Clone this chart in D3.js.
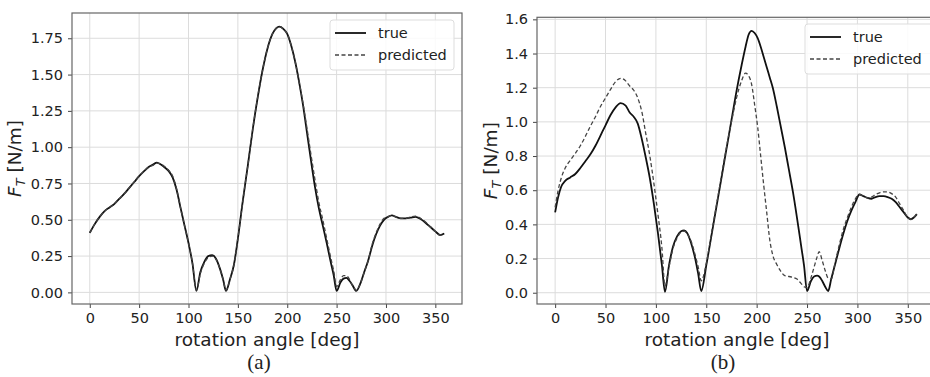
<!DOCTYPE html>
<html>
<head>
<meta charset="utf-8">
<script src="https://cdn.jsdelivr.net/npm/d3@7/dist/d3.min.js"></script>
<style>
  body { margin: 0; background: #fff; }
  text { font-family: "DejaVu Sans", sans-serif; fill: #222; }
</style>
</head>
<body>
<div id="chart"></div>
<script>
// panel (a)
var anglesA = [0,5,10,15,20,25,30,35,40,45,50,55,60,64,68,72,76,80,84,88,92,96,100,104,108,112,116,120,124,128,132,135,138,142,146,150,155,160,165,170,175,180,185,189,192,196,200,204,208,212,216,220,224,228,232,236,240,244,247,250,254,257,260,263,266,270,274,278,282,286,290,294,298,302,306,310,315,320,325,330,335,340,345,350,355,359];
var trueA = [0.41,0.47,0.52,0.56,0.585,0.61,0.645,0.68,0.72,0.76,0.80,0.835,0.865,0.88,0.893,0.88,0.86,0.835,0.79,0.705,0.58,0.46,0.34,0.20,0.01,0.14,0.21,0.25,0.257,0.23,0.16,0.09,0.01,0.09,0.19,0.37,0.63,0.87,1.12,1.34,1.53,1.68,1.78,1.82,1.83,1.815,1.78,1.70,1.59,1.45,1.29,1.10,0.91,0.73,0.58,0.46,0.34,0.21,0.12,0.01,0.07,0.095,0.10,0.08,0.05,0.01,0.06,0.14,0.22,0.32,0.40,0.46,0.50,0.52,0.53,0.52,0.51,0.51,0.515,0.52,0.505,0.48,0.45,0.42,0.395,0.405];
var predA = [0.41,0.47,0.52,0.56,0.585,0.61,0.645,0.68,0.72,0.76,0.80,0.835,0.865,0.875,0.89,0.885,0.865,0.84,0.80,0.71,0.58,0.46,0.34,0.20,0.015,0.13,0.20,0.24,0.25,0.225,0.16,0.09,0.015,0.09,0.19,0.37,0.63,0.87,1.12,1.34,1.53,1.68,1.78,1.82,1.83,1.815,1.78,1.70,1.59,1.45,1.30,1.13,0.95,0.78,0.62,0.50,0.37,0.24,0.15,0.04,0.09,0.115,0.115,0.09,0.05,0.015,0.06,0.14,0.22,0.33,0.41,0.47,0.51,0.52,0.53,0.52,0.51,0.51,0.52,0.525,0.51,0.485,0.45,0.42,0.395,0.405];
var ticksYA = [0, 0.25, 0.5, 0.75, 1.0, 1.25, 1.5, 1.75];

// panel (b)
var anglesB = [0,3,6,10,15,20,25,30,35,40,45,50,55,60,65,70,74,78,82,86,90,94,98,102,106,109,113,117,121,125,128,131,135,139,142,145,150,155,160,165,170,175,180,185,189,192,195,198,201,204,207,210,213,216,220,224,228,232,236,240,244,247,250,254,257,260,262,265,268,271,274,278,282,286,290,294,298,302,306,310,314,318,322,326,330,334,338,342,346,350,353,356,359];
var trueB = [0.47,0.56,0.62,0.655,0.675,0.695,0.73,0.77,0.81,0.86,0.92,0.98,1.04,1.085,1.11,1.095,1.055,1.03,0.99,0.90,0.79,0.67,0.52,0.35,0.16,0.005,0.16,0.27,0.33,0.36,0.365,0.35,0.29,0.20,0.11,0.01,0.16,0.33,0.50,0.67,0.84,1.01,1.18,1.33,1.44,1.51,1.533,1.52,1.49,1.44,1.38,1.32,1.26,1.20,1.09,0.97,0.85,0.72,0.59,0.44,0.28,0.16,0.01,0.07,0.095,0.10,0.095,0.07,0.035,0.01,0.08,0.17,0.26,0.345,0.42,0.48,0.53,0.575,0.565,0.555,0.55,0.56,0.565,0.565,0.56,0.55,0.53,0.50,0.47,0.44,0.43,0.44,0.46];
var predB = [0.50,0.60,0.67,0.73,0.775,0.815,0.86,0.915,0.975,1.03,1.09,1.14,1.19,1.235,1.255,1.24,1.21,1.185,1.14,1.06,0.93,0.80,0.64,0.46,0.26,0.04,0.15,0.26,0.32,0.355,0.36,0.345,0.30,0.22,0.15,0.07,0.17,0.34,0.51,0.68,0.85,1.00,1.14,1.24,1.285,1.27,1.22,1.10,0.97,0.80,0.63,0.47,0.31,0.22,0.165,0.125,0.10,0.095,0.09,0.08,0.055,0.035,0.03,0.09,0.15,0.21,0.24,0.19,0.13,0.085,0.08,0.18,0.28,0.37,0.44,0.50,0.55,0.575,0.565,0.555,0.56,0.575,0.585,0.59,0.59,0.58,0.56,0.52,0.48,0.44,0.43,0.44,0.46];
var ticksYB = [0, 0.2, 0.4, 0.6, 0.8, 1.0, 1.2, 1.4, 1.6];

var ticksX = [0, 50, 100, 150, 200, 250, 300, 350];
var seriesNames = ["true", "predicted"];

var width = 930, height = 377;

var svg = d3.select("#chart").append("svg")
  .attr("width", width)
  .attr("height", height);

function drawPanel(p) {
  var x = d3.scaleLinear().domain([-18, 377]).range([p.left, p.right]);
  var y = d3.scaleLinear().domain(p.yDomain).range([p.bottom, p.top]);

  var g = svg.append("g");

  g.append("clipPath").attr("id", "clip" + p.tag)
    .append("rect")
      .attr("x", p.left).attr("y", p.top)
      .attr("width", p.right - p.left).attr("height", p.bottom - p.top);

  // grid
  g.append("g").selectAll("line")
    .data(ticksX)
    .enter().append("line")
      .attr("x1", function(d) { return x(d); })
      .attr("x2", function(d) { return x(d); })
      .attr("y1", p.top).attr("y2", p.bottom)
      .attr("stroke", "#dcdcdc").attr("stroke-width", 1);
  g.append("g").selectAll("line")
    .data(p.ticksY)
    .enter().append("line")
      .attr("y1", function(d) { return y(d); })
      .attr("y2", function(d) { return y(d); })
      .attr("x1", p.left).attr("x2", p.right)
      .attr("stroke", "#dcdcdc").attr("stroke-width", 1);

  // axes
  var xAxis = d3.axisBottom(x).tickValues(ticksX).tickSize(4).tickPadding(5)
    .tickFormat(d3.format("d"));
  var yAxis = d3.axisLeft(y).tickValues(p.ticksY).tickSize(4).tickPadding(5)
    .tickFormat(d3.format(p.fmt));

  var gx = g.append("g").attr("transform", "translate(0," + p.bottom + ")").call(xAxis);
  var gy = g.append("g").attr("transform", "translate(" + p.left + ",0)").call(yAxis);
  [gx, gy].forEach(function(a) {
    a.select(".domain").remove();
    a.selectAll(".tick line").attr("stroke", "#444");
    a.selectAll(".tick text")
      .style("font-family", "'DejaVu Sans', sans-serif")
      .style("font-size", "14.5px")
      .attr("fill", "#222");
  });

  // lines
  var line = d3.line()
    .x(function(d) { return x(d[0]); })
    .y(function(d) { return y(d[1]); })
    .curve(d3.curveMonotoneX);

  var plot = g.append("g").attr("clip-path", "url(#clip" + p.tag + ")");
  plot.append("path")
    .datum(d3.zip(p.angles, p.trueV))
    .attr("d", line)
    .attr("fill", "none")
    .attr("stroke", "#111")
    .attr("stroke-width", 1.8);
  plot.append("path")
    .datum(d3.zip(p.angles, p.predV))
    .attr("d", line)
    .attr("fill", "none")
    .attr("stroke", "#444")
    .attr("stroke-width", 1.3)
    .attr("stroke-dasharray", "4,2.5");

  // frame
  g.append("rect")
    .attr("x", p.left).attr("y", p.top)
    .attr("width", p.right - p.left).attr("height", p.bottom - p.top)
    .attr("fill", "none").attr("stroke", "#666").attr("stroke-width", 1.2);

  // legend
  var lg = g.append("g").attr("transform", "translate(" + p.legX + "," + p.legY + ")");
  lg.append("rect")
    .attr("x", 0).attr("y", 0).attr("width", p.legW).attr("height", 50)
    .attr("rx", 3)
    .attr("fill", "#fff").attr("fill-opacity", 0.85)
    .attr("stroke", "#ddd");
  seriesNames.forEach(function(name, i) {
    lg.append("line")
      .attr("x1", 5).attr("x2", 36)
      .attr("y1", 13 + i * 22).attr("y2", 13 + i * 22)
      .attr("stroke", i === 0 ? "#111" : "#444")
      .attr("stroke-width", i === 0 ? 1.8 : 1.3)
      .attr("stroke-dasharray", i === 0 ? null : "4,2.5");
    lg.append("text")
      .attr("x", 48).attr("y", 18 + i * 22)
      .style("font-size", "14.5px")
      .text(name);
  });

  // axis labels
  g.append("text")
    .attr("x", p.xLabelX).attr("y", 346)
    .attr("text-anchor", "middle")
    .style("font-size", "18.5px")
    .text("rotation angle [deg]");

  var yl = g.append("text")
    .attr("transform", "translate(" + p.yLabelX + "," + ((p.top + p.bottom) / 2) + ") rotate(-90)")
    .attr("text-anchor", "middle")
    .style("font-size", "18.5px");
  yl.append("tspan").style("font-style", "italic").text("F");
  yl.append("tspan").style("font-style", "italic").style("font-size", "13px")
    .attr("dy", 4).text("T");
  yl.append("tspan").attr("dy", -4).text(" [N/m]");

  g.append("text")
    .attr("x", p.capX).attr("y", 369)
    .attr("text-anchor", "middle")
    .style("font-family", "'Liberation Serif', serif")
    .style("font-size", "21px")
    .text(p.caption);
}

drawPanel({
  tag: "a", left: 72, right: 462, top: 13, bottom: 304,
  yDomain: [-0.08, 1.924], ticksY: ticksYA, fmt: ".2f",
  angles: anglesA, trueV: trueA, predV: predA,
  legX: 330, legY: 20, legW: 124,
  xLabelX: 267, yLabelX: 21, capX: 259, caption: "(a)"
});

drawPanel({
  tag: "b", left: 537, right: 935, top: 17.3, bottom: 304,
  yDomain: [-0.066, 1.612], ticksY: ticksYB, fmt: ".1f",
  angles: anglesB, trueV: trueB, predV: predB,
  legX: 805, legY: 24, legW: 130,
  xLabelX: 737, yLabelX: 497, capX: 723, caption: "(b)"
});
</script>
</body>
</html>
